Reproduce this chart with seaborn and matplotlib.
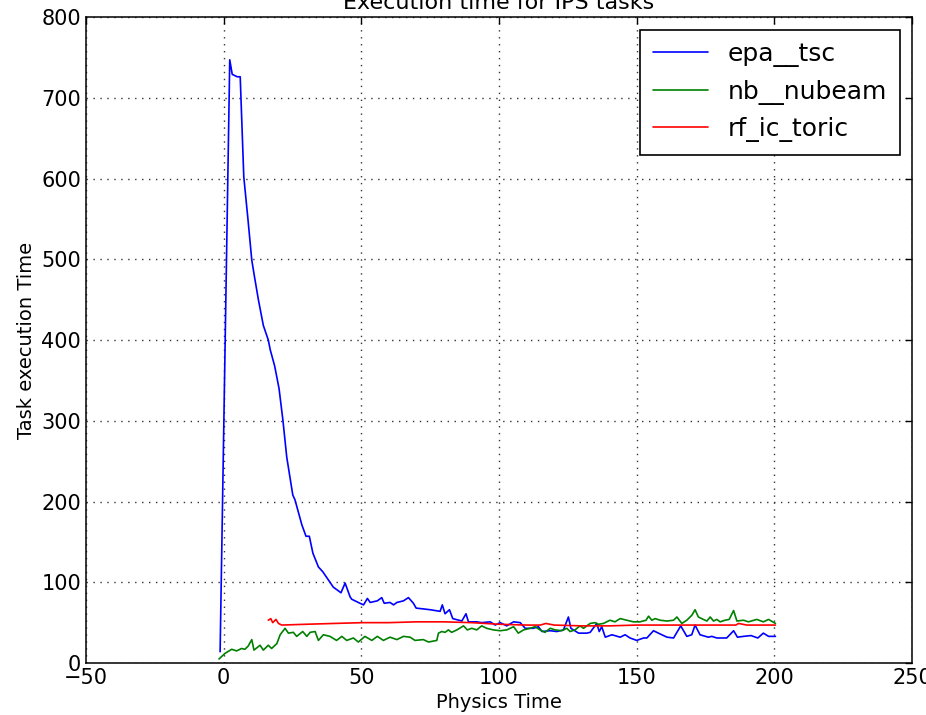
import matplotlib
matplotlib.use("Agg")
import matplotlib.pyplot as plt
import seaborn as sns
import pandas as pd

# epa__tsc
epa_x = [-1.3, 2.2, 3.1, 4.9, 6.0, 7.3, 8.8, 10.2, 11.2, 12.6, 14.4, 15.0, 16.2, 16.9, 18.5, 20.1,
         21.5, 22.9, 25.1, 25.9, 28.4, 29.9, 31.1, 32.4, 34.4, 36.0, 38.0, 39.8, 42.6, 44.1, 45.9,
         46.5, 49.5, 50.8, 52.2, 53.2, 55.8, 57.4, 58.3, 60.4, 61.7, 62.9, 65.3, 67.1, 68.9, 69.9,
         72.5, 75.0, 78.6, 79.4, 80.4, 82.0, 83.2, 86.5, 88.0, 88.9, 91.9, 93.7, 96.8, 98.6, 100.4,
         102.8, 105.3, 107.7, 109.5, 112.5, 114.3, 115.6, 118.6, 121.0, 123.4, 125.2, 126.1, 128.9,
         131.9, 133.1, 135.5, 136.4, 137.3, 138.6, 141.0, 144.0, 145.8, 147.6, 150.0, 152.5, 153.7,
         156.1, 158.5, 161.0, 163.4, 166.0, 168.2, 170.0, 171.2, 173.0, 176.0, 177.3, 179.1, 182.7,
         185.2, 186.6, 188.8, 191.5, 194.0, 196.0, 197.9, 200.4]
epa_y = [14, 747, 729, 726, 726, 602, 550, 499, 478, 450, 418, 412, 400, 388, 368, 340,
         301, 255, 208, 202, 171, 157, 157, 136, 119, 113, 103, 94, 87, 99, 82,
         79, 74, 72, 80, 75, 77, 81, 74, 75, 72, 75, 77, 81, 74, 68,
         67, 66, 64, 72, 61, 66, 55, 52, 61, 51, 51, 50, 51, 47, 50,
         46, 51, 50, 43, 43, 45, 39, 40, 39, 41, 57, 43, 37,
         37, 38, 49, 39, 45, 32, 35, 32, 35, 31, 28, 31, 31,
         40, 36, 32, 31, 46, 33, 35, 47, 35, 32, 33, 31, 31,
         40, 32, 33, 34, 31, 37, 33, 33]

# nb__nubeam
nb_x = [-1.7, 0.5, 2.9, 4.7, 6.5, 7.7, 8.9, 10.2, 11.0, 13.2, 14.4, 16.2, 17.4, 19.3, 20.5,
        22.3, 23.5, 25.3, 26.5, 28.7, 30.2, 31.4, 33.2, 34.4, 36.2, 38.6, 41.0, 42.9, 44.7,
        47.1, 48.9, 51.3, 53.8, 55.8, 58.0, 60.4, 62.9, 65.3, 67.7, 69.5, 72.5, 74.4, 77.4,
        78.0, 79.2, 80.4, 81.6, 82.8, 84.7, 87.1, 88.5, 90.1, 91.9, 93.7, 95.5, 98.0, 100.4,
        102.8, 105.3, 107.0, 108.9, 111.3, 113.1, 114.9, 116.7, 118.6, 120.4, 122.8, 124.6,
        125.8, 127.6, 129.4, 130.7, 133.1, 134.9, 136.1, 137.9, 140.3, 142.1, 144.0, 146.4,
        148.8, 151.2, 153.4, 154.3, 155.5, 156.7, 158.5, 161.0, 163.4, 164.6, 166.4, 168.2,
        170.0, 171.2, 172.4, 174.2, 175.5, 176.7, 177.9, 179.1, 180.3, 182.1, 183.6, 185.2,
        186.4, 188.8, 190.6, 193.6, 196.0, 197.9, 200.4]
nb_y = [5, 12, 17, 15, 18, 17, 21, 29, 16, 22, 16, 22, 18, 24, 35,
        43, 37, 38, 33, 39, 33, 38, 39, 28, 35, 33, 28, 33, 28,
        31, 26, 33, 28, 33, 28, 32, 29, 33, 32, 28, 29, 26, 28,
        37, 39, 38, 41, 38, 41, 46, 41, 43, 41, 46, 43, 41, 40,
        41, 45, 37, 41, 43, 45, 41, 38, 43, 41, 40, 43,
        39, 41, 46, 43, 49, 50, 48, 49, 53, 51, 55, 53,
        51, 51, 53, 58, 53, 55, 53, 52, 53, 57, 49, 53,
        59, 66, 57, 54, 52, 57, 52, 54, 51, 53, 54, 65,
        52, 53, 51, 54, 51, 54, 49]

# rf_ic_toric
rf_x = [16.2, 17.1, 17.8, 19.0, 19.9, 21.1, 30.0, 40.0, 50.7, 60.0, 70.0, 80.0, 90.0, 100.0,
        110.0, 115.0, 117.0, 120.0, 130.0, 140.0, 150.0, 160.0, 170.0, 180.0, 186.0, 187.0,
        190.0, 200.4]
rf_y = [53, 55, 50, 54, 49, 47, 48, 49, 50, 50, 51, 51, 50, 48,
        47, 47, 49, 47, 46, 46, 47, 47, 47, 47, 47, 49,
        47, 47]

df = pd.concat([
    pd.DataFrame({"x": epa_x, "y": epa_y, "task": "epa__tsc"}),
    pd.DataFrame({"x": nb_x, "y": nb_y, "task": "nb__nubeam"}),
    pd.DataFrame({"x": rf_x, "y": rf_y, "task": "rf_ic_toric"}),
], ignore_index=True)

sns.set_style("white", {"xtick.direction": "in", "ytick.direction": "in",
                        "axes.edgecolor": "black", "text.color": "black",
                        "axes.labelcolor": "black", "xtick.color": "black",
                        "ytick.color": "black"})
plt.rcParams["font.family"] = ["DejaVu Sans"]

fig = plt.figure(figsize=(9.26, 7.15), dpi=100)
ax = fig.add_axes([0.0929, 0.0727, 0.8920, 0.9035])
sns.lineplot(data=df, x="x", y="y", hue="task", estimator=None, sort=False,
             palette={"epa__tsc": "blue", "nb__nubeam": "green", "rf_ic_toric": "red"},
             linewidth=1.2, ax=ax)

ax.set_xlim(-50, 250)
ax.set_ylim(0, 800)
ax.set_xticks(range(-50, 251, 50))
ax.set_yticks(range(0, 801, 100))
ax.tick_params(labelsize=15, direction="in", top=True, right=True, length=5, width=1,
               colors="black")
ax.grid(True, linestyle=(0, (1, 4)), color="#333333", linewidth=1.0)
for s in ax.spines.values():
    s.set_linewidth(1.1)
ax.set_xlabel("Physics Time", fontsize=14, color="black")
ax.set_ylabel("Task execution Time", fontsize=14, color="black")
ax.set_title("Execution time for IPS tasks", fontsize=16, color="black")

leg = ax.legend(loc="upper right", fontsize=18, fancybox=False, framealpha=1,
                edgecolor="black", handlelength=2.2, borderpad=0.5)
leg.get_frame().set_linewidth(1.2)
for t in leg.get_texts():
    t.set_color("black")

fig.savefig("out.png", dpi=100)
